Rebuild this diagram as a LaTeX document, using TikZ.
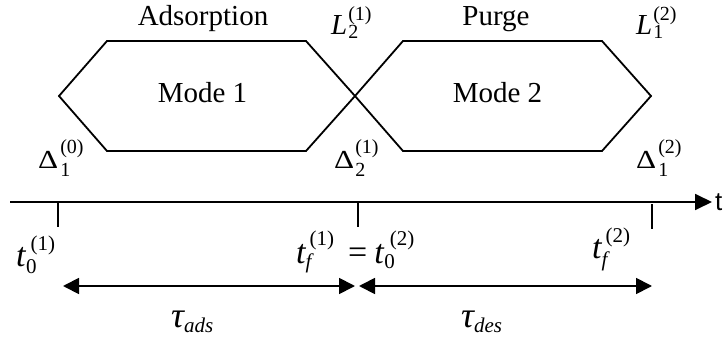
\documentclass[tikz,border=0pt]{standalone}
\usepackage{fontspec}
\setmainfont{Liberation Serif}
\newfontfamily\sansf{Liberation Sans}
\usetikzlibrary{arrows.meta}
% #1 main size, #2 script size, #3 base, #4 sub kern, #5 sub, #6 sub lower, #7 sup, #8 sup raise, #9 sup kern
\newcommand\Lab[9]{{\fontsize{#1}{#1}\selectfont #3}{\fontsize{#2}{#2}\selectfont\rlap{\kern#9\raisebox{#8}{#7}}\kern#4\raisebox{-#6}{#5}}}
\newcommand\Dl{\scalebox{1.2}[1]{Δ}}
\begin{document}
\begin{tikzpicture}[x=1pt,y=-1pt,
  hexline/.style={line width=1.8pt, line join=miter},
  axisline/.style={line width=1.8pt, -{Triangle[length=17pt,width=16pt]}},
  tickline/.style={line width=2.2pt},
  spanarrow/.style={line width=1.8pt, {Triangle[length=16pt,width=16pt]}-{Triangle[length=16pt,width=16pt]}},
  lbl/.style={inner sep=0pt, anchor=base west},
  titletext/.style={inner sep=0pt, anchor=base, font=\fontsize{29}{29}\selectfont},
]
\useasboundingbox (0,0) rectangle (723,342);

% hexagon corners
\coordinate (h1l)  at (59,96);
\coordinate (h1tl) at (107,41);
\coordinate (h1tr) at (306,41);
\coordinate (mid)  at (355,96);
\coordinate (h1br) at (306,151);
\coordinate (h1bl) at (107,151);
\coordinate (h2tl) at (403,41);
\coordinate (h2tr) at (602,41);
\coordinate (h2r)  at (651,96);
\coordinate (h2br) at (602,151);
\coordinate (h2bl) at (403,151);

\draw[hexline] (h1l) -- (h1tl) -- (h1tr) -- (mid) -- (h1br) -- (h1bl) -- cycle;
\draw[hexline] (mid) -- (h2tl) -- (h2tr) -- (h2r) -- (h2br) -- (h2bl) -- cycle;

% titles
\node[titletext] (ads)   at (203,26)    {Adsorption};
\node[titletext] (purge) at (496,26)    {Purge};
\node[titletext] (m1)    at (202.5,103) {Mode 1};
\node[titletext] (m2)    at (497.5,103) {Mode 2};

% corner labels
\node[lbl] (L21) at (331,35)  {\Lab{29}{20}{\itshape L}{1pt}{2}{4pt}{(1)}{14pt}{1pt}};
\node[lbl] (L12) at (636,35)  {\Lab{29}{20}{\itshape L}{1pt}{1}{4pt}{(2)}{14pt}{1pt}};
\node[lbl] (D10) at (38,168)  {\Lab{26}{20}{\Dl}{2pt}{1}{9pt}{(0)}{15pt}{2pt}};
\node[lbl] (D21) at (334,168) {\Lab{26}{20}{\Dl}{1pt}{2}{9pt}{(1)}{15pt}{1pt}};
\node[lbl] (D12) at (636,168) {\Lab{26}{20}{\Dl}{2pt}{1}{9pt}{(2)}{15pt}{2pt}};

% time axis
\coordinate (axstart) at (10,202);
\coordinate (axend)   at (712,202);
\draw[axisline] (axstart) -- (axend);
\node[inner sep=0pt, anchor=base west, font=\sansf\fontsize{26}{26}\selectfont] (tax) at (715,211) {t};

% ticks
\coordinate (k1a) at (58,202);  \coordinate (k1b) at (58,227);
\coordinate (k2a) at (358,202); \coordinate (k2b) at (358,227);
\coordinate (k3a) at (652,204); \coordinate (k3b) at (652,229);
\draw[tickline] (k1a) -- (k1b);
\draw[tickline] (k2a) -- (k2b);
\draw[tickline] (k3a) -- (k3b);

% time labels
\node[lbl] (t01) at (16,266) {\Lab{34}{21}{\itshape t}{0.5pt}{0}{7pt}{(1)}{16pt}{5pt}};
\node[lbl] (tmid) at (296,263) {\makebox[52pt][l]{\Lab{34}{21}{\itshape t}{0pt}{\itshape f}{5pt}{(1)}{18pt}{4pt}}{\fontsize{34}{34}\selectfont =}\kern7pt\Lab{34}{21}{\itshape t}{0.5pt}{0}{5pt}{(2)}{18pt}{6pt}};
\node[lbl] (tf2) at (592,258) {\Lab{34}{21}{\itshape t}{0pt}{\itshape f}{8pt}{(2)}{16pt}{4pt}};

% duration arrows
\coordinate (a1l) at (63,286);
\coordinate (a1r) at (355,286);
\coordinate (a2l) at (359,286);
\coordinate (a2r) at (652,286);
\draw[spanarrow] (a1l) -- (a1r);
\draw[spanarrow] (a2l) -- (a2r);

% tau labels
\node[lbl] (tauads) at (171,327) {{\fontsize{36}{36}\selectfont\itshape τ}{\fontsize{21}{21}\selectfont\itshape\raisebox{-5pt}{ads}}};
\node[lbl] (taudes) at (461,327) {{\fontsize{36}{36}\selectfont\itshape τ}{\fontsize{21}{21}\selectfont\itshape\raisebox{-5pt}{des}}};
\end{tikzpicture}
\end{document}
